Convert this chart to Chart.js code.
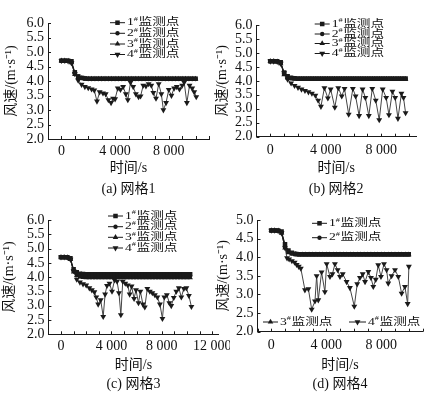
<!DOCTYPE html>
<html>
<head>
<meta charset="utf-8">
<script src="https://cdn.jsdelivr.net/npm/chart.js@4.4.1/dist/chart.umd.min.js"></script>
<style>
  html, body { margin: 0; padding: 0; background: #fff; }
  body { width: 427px; height: 395px; position: relative; overflow: hidden; }
  canvas { position: absolute; }
</style>
</head>
<body>
<canvas id="cA" width="213" height="199" style="left:0;top:0"></canvas>
<canvas id="cB" width="214" height="199" style="left:213px;top:0"></canvas>
<canvas id="cC" width="230" height="200" style="left:0;top:195px"></canvas>
<canvas id="cD" width="214" height="200" style="left:213px;top:195px"></canvas>
<script>
// series names
const seriesNames = ["1#监测点", "2#监测点", "3#监测点", "4#监测点"];

// tick labels
const xTicksA = [0, 4000, 8000];
const xTicksB = [0, 4000, 8000];
const xTicksC = [0, 4000, 8000, 12000];
const xTicksD = [0, 4000, 8000];
const yTicks6 = [2.0, 2.5, 3.0, 3.5, 4.0, 4.5, 5.0, 5.5, 6.0];
const yTicks5 = [2.0, 2.5, 3.0, 3.5, 4.0, 4.5, 5.0];

// (a) 网格1
const timeA = [0,250,500,750,1000,1250,1500,1750,2000,2250,2500,2750,3000,3250,3500,3750,4000,4250,4500,4750,5000,5250,5500,5750,6000,6250,6500,6750,7000,7250,7500,7750,8000,8250,8500,8750,9000,9250,9500,9750,10000];
const s1A = [4.70,4.70,4.70,4.68,4.30,4.16,4.11,4.09,
  4.08,4.08,4.08,4.08,4.08,4.08,4.08,4.08,
  4.08,4.08,4.08,4.08,4.08,4.08,4.08,4.08,
  4.08,4.08,4.08,4.08,4.08,4.08,4.08,4.08,
  4.08,4.08,4.08,4.08,4.08,4.08,4.08,4.08,
  4.08];
const s2A = [4.70,4.70,4.69,4.66,4.27,4.14,4.10,4.08,
  4.07,4.07,4.07,4.07,4.07,4.07,4.07,4.07,
  4.07,4.07,4.07,4.07,4.07,4.07,4.07,4.07,
  4.07,4.07,4.07,4.07,4.07,4.07,4.07,4.07,
  4.07,4.07,4.07,4.07,4.07,4.07,4.07,4.07,
  4.07];
const s3A = [4.70,4.70,4.69,4.63,4.23,4.12,4.09,4.08,
  4.07,4.07,4.07,4.07,4.07,4.07,4.07,4.07,
  4.07,4.07,4.07,4.07,4.07,4.07,4.07,4.07,
  4.07,4.07,4.07,4.07,4.07,4.07,4.07,4.07,
  4.07,4.07,4.07,4.07,4.07,4.07,4.07,4.07,
  4.07];
const time4A = [0,250,500,750,1000,1250,1500,1750,2000,2250,2450,2650,2850,3100,3300,3500,3700,3850,4000,4200,4400,4600,4800,4950,5150,5350,5550,5750,5900,6100,6300,6500,6700,6850,7050,7250,7450,7600,7800,8000,8200,8400,8600,8800,9000,9150,9350,9550,9750,9900,10050];
const s4A = [4.70,4.70,4.69,4.62,4.25,4.02,3.88,3.80,3.76,3.72,3.68,3.30,3.62,3.58,3.55,3.35,3.25,3.40,3.38,3.75,3.70,3.80,3.55,3.35,3.95,3.80,3.55,3.45,3.48,3.85,3.82,3.90,3.85,3.60,3.40,3.90,3.55,3.00,3.25,3.70,3.50,3.75,3.80,3.72,3.85,3.95,3.25,3.85,3.75,3.62,3.45];

// (b) 网格2
const timeB = [0,250,500,750,1000,1250,1500,1750,2000,2250,2500,2750,3000,3250,3500,3750,4000,4250,4500,4750,5000,5250,5500,5750,6000,6250,6500,6750,7000,7250,7500,7750,8000,8250,8500,8750,9000,9250,9500,9750];
const s1B = [4.70,4.70,4.70,4.67,4.30,4.16,4.11,4.09,
  4.08,4.08,4.08,4.08,4.08,4.08,4.08,4.08,
  4.08,4.08,4.08,4.08,4.08,4.08,4.08,4.08,
  4.08,4.08,4.08,4.08,4.08,4.08,4.08,4.08,
  4.08,4.08,4.08,4.08,4.08,4.08,4.08,4.08];
const s2B = [4.70,4.70,4.69,4.65,4.26,4.13,4.09,4.08,
  4.07,4.07,4.07,4.07,4.07,4.07,4.07,4.07,
  4.07,4.07,4.07,4.07,4.07,4.07,4.07,4.07,
  4.07,4.07,4.07,4.07,4.07,4.07,4.07,4.07,
  4.07,4.07,4.07,4.07,4.07,4.07,4.07,4.07];
const s3B = [4.70,4.70,4.69,4.62,4.22,4.11,4.08,4.07,
  4.06,4.06,4.06,4.06,4.06,4.06,4.06,4.06,
  4.06,4.06,4.06,4.06,4.06,4.06,4.06,4.06,
  4.06,4.06,4.06,4.06,4.06,4.06,4.06,4.06,
  4.06,4.06,4.06,4.06,4.06,4.06,4.06,4.06];
const time4B = [0,250,500,750,1000,1250,1500,1750,2000,2250,2500,2750,3000,3250,3450,3650,3900,4150,4350,4650,4900,5150,5350,5650,5950,6150,6400,6650,6850,7100,7350,7600,7850,8100,8350,8550,8800,9000,9200,9450,9600,9750];
const s4B = [4.70,4.70,4.69,4.62,4.28,4.05,3.92,3.83,3.76,3.70,3.65,3.60,3.55,3.48,3.30,3.08,3.75,3.38,3.70,3.05,3.75,3.45,3.72,2.80,3.72,3.45,2.75,3.70,3.40,2.75,3.72,3.30,2.60,3.70,3.40,2.78,3.62,3.40,2.65,3.55,3.40,2.85];

// (c) 网格3
const timeC = [0,250,500,750,1000,1250,1500,1750,2000,2250,2500,2750,3000,3250,3500,3750,4000,4250,4500,4750,5000,5250,5500,5750,6000,6250,6500,6750,7000,7250,7500,7750,8000,8250,8500,8750,9000,9250,9500,9750,10000,10250];
const s1C = [4.70,4.70,4.70,4.66,4.28,4.17,4.12,4.11,
  4.10,4.10,4.10,4.10,4.10,4.10,4.10,4.10,
  4.10,4.10,4.10,4.10,4.10,4.10,4.10,4.10,
  4.10,4.10,4.10,4.10,4.10,4.10,4.10,4.10,
  4.10,4.10,4.10,4.10,4.10,4.10,4.10,4.10,
  4.10,4.10];
const s2C = [4.70,4.70,4.69,4.64,4.22,4.12,4.07,4.06,
  4.05,4.05,4.05,4.05,4.05,4.05,4.05,4.05,
  4.05,4.05,4.05,4.05,4.05,4.05,4.05,4.05,
  4.05,4.05,4.05,4.05,4.05,4.05,4.05,4.05,
  4.05,4.05,4.05,4.05,4.05,4.05,4.05,4.05,
  4.05,4.05];
const s3C = [4.70,4.70,4.69,4.62,4.18,4.06,4.01,3.99,
  3.98,3.98,3.98,3.98,3.98,3.98,3.98,3.98,
  3.98,3.98,3.98,3.98,3.98,3.98,3.98,3.98,
  3.98,3.98,3.98,3.98,3.98,3.98,3.98,3.98,
  3.98,3.98,3.98,3.98,3.98,3.98,3.98,3.98,
  3.98,3.98];
const time4C = [0,250,500,750,1000,1250,1500,1750,2000,2250,2450,2650,2800,2950,3150,3350,3500,3650,3850,4050,4250,4450,4600,4750,4900,5100,5300,5450,5600,5800,5950,6150,6300,6500,6650,6850,7050,7250,7450,7650,7850,8050,8200,8400,8600,8750,8950,9150,9350,9550,9750,9950,10150,10350];
const s4C = [4.70,4.70,4.69,4.62,4.22,3.92,3.82,3.76,3.72,3.62,3.55,3.48,3.30,3.05,3.20,2.62,3.40,3.70,3.78,3.50,3.90,3.85,3.45,2.68,3.85,3.78,3.72,3.40,3.68,3.25,3.55,3.10,3.50,3.05,2.95,3.60,3.50,3.45,3.38,3.30,3.05,2.55,3.30,3.38,3.10,3.00,3.28,3.50,3.62,3.30,3.60,3.62,3.35,2.97];

// (d) 网格4
const timeD = [0,250,500,750,1000,1250,1500,1750,2000,2250,2500,2750,3000,3250,3500,3750,4000,4250,4500,4750,5000,5250,5500,5750,6000,6250,6500,6750,7000,7250,7500,7750,8000,8250,8500,8750,9000,9250,9500,9750,10000];
const s1D = [4.72,4.72,4.72,4.69,4.35,4.18,4.12,4.09,
  4.08,4.08,4.08,4.08,4.08,4.08,4.08,4.08,
  4.08,4.08,4.08,4.08,4.08,4.08,4.08,4.08,
  4.08,4.08,4.08,4.08,4.08,4.08,4.08,4.08,
  4.08,4.08,4.08,4.08,4.08,4.08,4.08,4.08,
  4.08];
const s2D = [4.72,4.72,4.71,4.67,4.30,4.15,4.10,4.08,
  4.07,4.07,4.07,4.07,4.07,4.07,4.07,4.07,
  4.07,4.07,4.07,4.07,4.07,4.07,4.07,4.07,
  4.07,4.07,4.07,4.07,4.07,4.07,4.07,4.07,
  4.07,4.07,4.07,4.07,4.07,4.07,4.07,4.07,
  4.07];
const s3D = [4.72,4.72,4.71,4.65,4.25,4.12,4.09,4.08,
  4.07,4.07,4.07,4.07,4.07,4.07,4.07,4.07,
  4.07,4.07,4.07,4.07,4.07,4.07,4.07,4.07,
  4.07,4.07,4.07,4.07,4.07,4.07,4.07,4.07,
  4.07,4.07,4.07,4.07,4.07,4.07,4.07,4.07,
  4.07];
const time4D = [0,250,500,750,1000,1150,1300,1500,1700,1850,2000,2150,2450,2700,2940,3180,3300,3420,3660,3900,4030,4270,4450,4630,4830,5000,5200,5480,5720,6040,6250,6450,6650,6820,7060,7250,7420,7600,7780,7980,8200,8390,8510,8750,9000,9240,9480,9720,9920,10010];
const s4D = [4.72,4.72,4.71,4.65,4.25,3.98,3.95,3.90,3.86,3.80,3.75,3.70,3.12,3.15,2.60,2.82,3.50,2.85,3.60,3.07,3.82,3.48,3.55,3.82,3.66,3.48,3.55,3.34,3.18,2.68,3.28,3.45,3.55,3.34,3.61,3.45,3.21,3.40,3.79,3.48,3.82,3.66,3.30,3.50,3.66,3.48,3.03,3.21,2.75,3.75];

const SERIF = '"Liberation Serif", "Noto Sans CJK SC", serif';
const INK = "#1a1a1a";
const FS = 14;             // axis / caption font size
const HALF = FS * 0.6;     // half line height
Chart.defaults.font.family = SERIF;
Chart.defaults.color = "#111";

const pts = (t, v) => t.map((x, i) => ({ x: x, y: v[i] }));
const fmtX = v => String(v).replace(/\B(?=(\d{3})+(?!\d))/g, " ");

// marker used in the legends, same shapes as chart.js draws
function drawMark(ctx, style, rot, r, x, y) {
  ctx.fillStyle = INK;
  ctx.beginPath();
  if (style === "rect") {
    const s = r * Math.SQRT1_2;
    ctx.rect(x - s, y - s, 2 * s, 2 * s);
  } else if (style === "circle") {
    ctx.arc(x, y, r, 0, Math.PI * 2);
  } else {
    let a = rot * Math.PI / 180;
    ctx.moveTo(x + Math.sin(a) * r, y - Math.cos(a) * r);
    a += 2 * Math.PI / 3;
    ctx.lineTo(x + Math.sin(a) * r, y - Math.cos(a) * r);
    a += 2 * Math.PI / 3;
    ctx.lineTo(x + Math.sin(a) * r, y - Math.cos(a) * r);
    ctx.closePath();
  }
  ctx.fill();
}

// legend text in the source is wide and flat, so stretch it a little
function wideText(ctx, txt, x, y, size, sx) {
  ctx.save();
  ctx.font = size + "px " + SERIF;
  ctx.textBaseline = "middle";
  ctx.textAlign = "left";
  ctx.fillStyle = "#111";
  ctx.translate(x, y);
  ctx.scale(sx, 1);
  ctx.fillText(txt, 0, 0);
  const w = ctx.measureText(txt).width * sx;
  ctx.restore();
  return w;
}

const legendMarks = {
  id: "legendMarks",
  afterDraw(chart, args, opts) {
    const ctx = chart.ctx;
    ctx.save();
    opts.items.forEach(it => {
      const ds = chart.data.datasets[it.i];
      ctx.strokeStyle = INK;
      ctx.lineWidth = 1;
      ctx.beginPath();
      ctx.moveTo(it.x, it.y);
      ctx.lineTo(it.x + it.len, it.y);
      ctx.stroke();
      drawMark(ctx, ds.pointStyle, ds.pointRotation || 0, ds.pointRadius, it.x + it.len / 2, it.y);
      const parts = ds.label.split("#");
      let tx = it.x + it.len + 2;
      tx += wideText(ctx, parts[0], tx, it.y, 10.5, 1.3);
      tx += wideText(ctx, "#", tx, it.y - 3.5, 7, 1.2) + 0.5;
      wideText(ctx, parts[1], tx, it.y, 10.5, 1.3);
    });
    ctx.restore();
  }
};

// short inward ticks on both axes
const tickMarks = {
  id: "tickMarks",
  afterDraw(chart, args, opts) {
    const { ctx, chartArea: a, scales: { x, y } } = chart;
    ctx.save();
    ctx.strokeStyle = INK;
    ctx.lineWidth = 1;
    ctx.beginPath();
    for (let v = x.min; v <= x.max; v += opts.xStep) {
      const px = Math.round(x.getPixelForValue(v)) + 0.5;
      ctx.moveTo(px, a.bottom);
      ctx.lineTo(px, a.bottom - 3);
    }
    opts.yTicks.forEach(v => {
      const py = Math.round(y.getPixelForValue(v)) + 0.5;
      ctx.moveTo(a.left, py);
      ctx.lineTo(a.left + 3, py);
    });
    ctx.stroke();
    ctx.restore();
  }
};

function makeChart(p) {
  const xH = p.xTitleY + HALF - p.B;
  const capTop = p.B + xH;
  const capPadTop = p.capY - capTop - HALF;
  const capPadBottom = Math.max(0, p.H - capTop - 2 * HALF - capPadTop);
  const base = { borderColor: INK, backgroundColor: INK, borderWidth: 1, pointBorderWidth: 0, tension: 0 };
  return new Chart(document.getElementById(p.id), {
    type: "line",
    data: {
      datasets: [
        Object.assign({ label: seriesNames[0], data: pts(p.t, p.s1), pointStyle: "rect", pointRadius: 3.2 }, base),
        Object.assign({ label: seriesNames[1], data: pts(p.t, p.s2), pointStyle: "circle", pointRadius: 2.2 }, base),
        Object.assign({ label: seriesNames[2], data: pts(p.t, p.s3), pointStyle: "triangle", pointRadius: 3.2 }, base),
        Object.assign({ label: seriesNames[3], data: pts(p.t4, p.s4), pointStyle: "triangle", pointRotation: 180, pointRadius: 3.4 }, base, { borderColor: "#444" })
      ]
    },
    options: {
      responsive: false,
      animation: false,
      events: [],
      layout: { padding: { left: 0, top: p.T, right: p.W - p.R, bottom: 0 } },
      plugins: {
        legend: { display: false },
        tooltip: { enabled: false },
        title: {
          display: true,
          position: "bottom",
          fullSize: false,
          text: p.caption,
          color: "#111",
          font: { size: FS, weight: "normal" },
          padding: { top: capPadTop, bottom: capPadBottom }
        },
        legendMarks: { items: p.legend },
        tickMarks: { xStep: 1000, yTicks: p.yTicks }
      },
      scales: {
        x: {
          type: "linear",
          min: p.xMin,
          max: p.xMax,
          afterBuildTicks: s => { s.ticks = p.xTicks.map(v => ({ value: v })); },
          afterFit: s => { s.height = xH; s.paddingLeft = 0; s.paddingRight = 0; },
          ticks: { callback: v => fmtX(v), font: { size: FS }, color: "#111", padding: p.xLabPad, maxRotation: 0, autoSkip: false },
          grid: { display: false, drawTicks: false },
          border: { display: true, color: INK, width: 1 },
          title: { display: true, text: "时间/s", font: { size: FS }, color: "#111", padding: { top: 0, bottom: 0 } }
        },
        y: {
          min: p.yMin,
          max: p.yMax,
          afterBuildTicks: s => { s.ticks = p.yTicks.map(v => ({ value: v })); },
          afterFit: s => { s.width = p.L; s.paddingTop = 0; s.paddingBottom = 0; },
          ticks: { callback: v => v.toFixed(1), font: { size: FS }, color: "#111", padding: 4, autoSkip: false },
          grid: { display: false, drawTicks: false },
          border: { display: true, color: INK, width: 1 },
          title: { display: true, text: "风速/(m·s⁻¹)", font: { size: FS }, color: "#111", padding: { top: p.yTitleX - HALF, bottom: 0 } }
        }
      }
    },
    plugins: [tickMarks, legendMarks]
  });
}

makeChart({
  id: "cA", W: 213, H: 199, L: 48, R: 212, T: 23, B: 139, xTitleY: 168, capY: 189, yTitleX: 11, xLabPad: 3.6,
  t: timeA, s1: s1A, s2: s2A, s3: s3A, t4: time4A, s4: s4A,
  xMin: -1000, xMax: 11000, xTicks: xTicksA, yMin: 2, yMax: 6, yTicks: yTicks6,
  caption: "(a) 网格1",
  legend: [{ i: 0, x: 110, y: 22.7, len: 15 }, { i: 1, x: 110, y: 33.3, len: 15 }, { i: 2, x: 110, y: 44, len: 15 }, { i: 3, x: 110, y: 54.5, len: 15 }]
});
makeChart({
  id: "cB", W: 214, H: 199, L: 43.4, R: 203, T: 25, B: 136.7, xTitleY: 168, capY: 189, yTitleX: 9.5, xLabPad: 4.9,
  t: timeB, s1: s1B, s2: s2B, s3: s3B, t4: time4B, s4: s4B,
  xMin: -1000, xMax: 10500, xTicks: xTicksB, yMin: 2, yMax: 6, yTicks: yTicks6,
  caption: "(b) 网格2",
  legend: [{ i: 0, x: 101.7, y: 24, len: 15 }, { i: 1, x: 101.7, y: 34, len: 15 }, { i: 2, x: 101.7, y: 43.5, len: 15 }, { i: 3, x: 101.7, y: 53.5, len: 15 }]
});
makeChart({
  id: "cC", W: 230, H: 200, L: 48.4, R: 218.5, T: 25, B: 139.3, xTitleY: 170, capY: 189, yTitleX: 9.5, xLabPad: 4,
  t: timeC, s1: s1C, s2: s2C, s3: s3C, t4: time4C, s4: s4C,
  xMin: -1000, xMax: 12500, xTicks: xTicksC, yMin: 2, yMax: 6, yTicks: yTicks6,
  caption: "(c) 网格3",
  legend: [{ i: 0, x: 108, y: 21, len: 15 }, { i: 1, x: 108, y: 31.7, len: 15 }, { i: 2, x: 108, y: 42.3, len: 15 }, { i: 3, x: 108, y: 53, len: 15 }]
});
makeChart({
  id: "cD", W: 214, H: 200, L: 44.5, R: 209.5, T: 25, B: 136.7, xTitleY: 170, capY: 189.3, yTitleX: 10.5, xLabPad: 4.9,
  t: timeD, s1: s1D, s2: s2D, s3: s3D, t4: time4D, s4: s4D,
  xMin: -1000, xMax: 11000, xTicks: xTicksD, yMin: 2, yMax: 5, yTicks: yTicks5,
  caption: "(d) 网格4",
  legend: [{ i: 0, x: 99, y: 28.3, len: 15 }, { i: 1, x: 99, y: 42.7, len: 15 }, { i: 2, x: 50, y: 127, len: 15 }, { i: 3, x: 136, y: 127, len: 17 }]
});
</script>
</body>
</html>
